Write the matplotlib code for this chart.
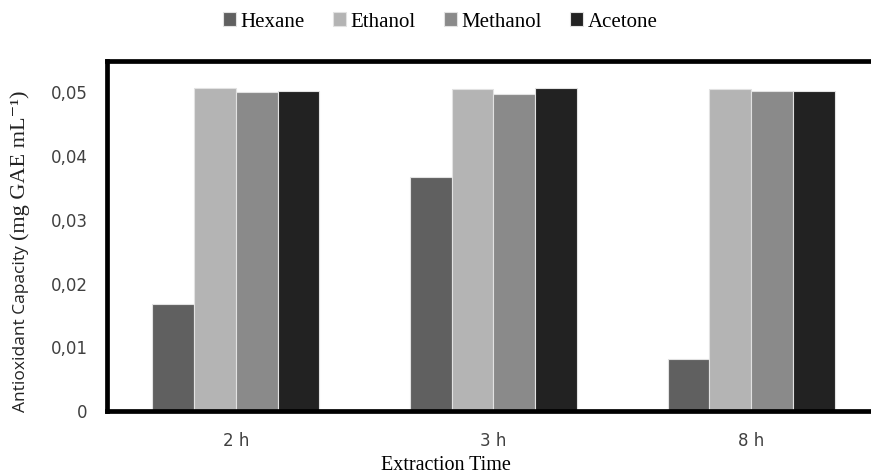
import numpy as np
import matplotlib
matplotlib.use("Agg")
import matplotlib.pyplot as plt

times = ["2 h", "3 h", "8 h"]
solvents = ["Hexane", "Ethanol", "Methanol", "Acetone"]
hexane = [0.0168, 0.0367, 0.0082]
ethanol = [0.0507, 0.0505, 0.0506]
methanol = [0.0500, 0.0498, 0.0502]
acetone = [0.0502, 0.0507, 0.0502]
yticks = [0, 0.01, 0.02, 0.03, 0.04, 0.05]
ytick_labels = ["0", "0,01", "0,02", "0,03", "0,04", "0,05"]

colors = ["#606060", "#b4b4b4", "#8a8a8a", "#222222"]
SERIF = "Liberation Serif"

fig = plt.figure(figsize=(8.71, 4.75), dpi=100)
ax = fig.add_axes([107 / 871, 1 - 411 / 475, (880 - 107) / 871, (411 - 60.5) / 475])

x = np.arange(len(times))
w = 0.162
for i, (name, vals) in enumerate(zip(solvents, [hexane, ethanol, methanol, acetone])):
    ax.bar(x + (i - 1.5) * w, vals, w, color=colors[i], edgecolor="#e2e2e2",
           linewidth=0.8, label=name, zorder=2)

ax.set_xlim(-0.5, 2.5)
ax.set_ylim(0, 0.055)
ax.set_xticks(x)
ax.set_xticklabels(times)
ax.set_yticks(yticks)
ax.set_yticklabels(ytick_labels)
ax.tick_params(length=0, labelsize=12, labelcolor="#404040", pad=15)
ax.tick_params(axis="y", pad=14)
for s in ax.spines.values():
    s.set_linewidth(3.4)
    s.set_color("black")

fig.legend(loc="center", bbox_to_anchor=(440 / 871, 1 - 22 / 475), ncol=4,
           frameon=False, prop={"family": SERIF, "size": 15},
           handlelength=0.65, handleheight=0.65, handletextpad=0.2, columnspacing=1.35)

fig.text(446 / 871, 1 - 465 / 475, "Extraction Time", ha="center", va="center",
         family=SERIF, fontsize=14.5)

# y label: sans part then serif part, sharing a baseline
t1 = fig.text(25 / 871, 1 - 412 / 475, "Antioxidant Capacity", rotation=90,
              rotation_mode="anchor", ha="left", va="baseline", fontsize=12.5,
              family="Open Sans", color="#222222")
fig.canvas.draw()
bb = t1.get_window_extent()
fig.text(25 / 871, (bb.y1 + 5) / 475, "(mg GAE mL\u207b\u00b9)", rotation=90,
         rotation_mode="anchor", ha="left", va="baseline", fontsize=16,
         family=[SERIF, "DejaVu Serif"], color="#222222")

fig.savefig("out.png", dpi=100)
